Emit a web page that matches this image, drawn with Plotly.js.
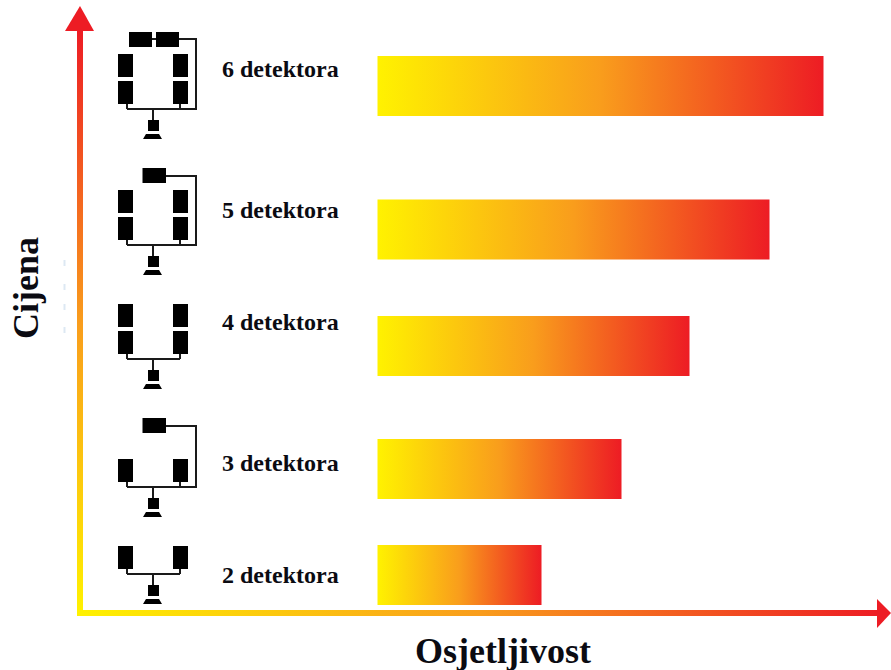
<!DOCTYPE html>
<html><head><meta charset="utf-8">
<script src="https://cdn.plot.ly/plotly-3.0.1.min.js"></script>
<style>html,body{margin:0;padding:0;background:#fff;overflow:hidden}#c{width:891px;height:670px}</style>
</head><body><div id="c"></div>
<script>
// Data (axes have no scale: units are arbitrary)
const categories = ['2 detektora','3 detektora','4 detektora','5 detektora','6 detektora'];
const osjetljivost = [164, 244, 312, 392, 446];
const cijena = [95, 201, 324, 440.5, 584];
const xTitle = 'Osjetljivost';
const yTitle = 'Cijena';

const W = 891, H = 670, BAR_LEFT = 377.5;
const X = p => p - BAR_LEFT, Y = p => H - p;
const INK = '#0b0b12', FONT = '"Liberation Serif","Times New Roman",serif';

const shapes = [];
const rect = (x0,y0,x1,y1,color) => shapes.push({type:'rect',xref:'x',yref:'y',x0:X(x0),x1:X(x1),y0:Y(y0),y1:Y(y1),fillcolor:color||'#000',line:{width:0}});
const poly = (pts,color) => shapes.push({type:'path',xref:'x',yref:'y',path:'M'+pts.map(p=>X(p[0])+','+Y(p[1])).join('L')+'Z',fillcolor:color||'#000',line:{width:0}});
const wire = (x0,y0,x1,y1) => shapes.push({type:'line',xref:'x',yref:'y',x0:X(x0),x1:X(x1),y0:Y(y0),y1:Y(y1),line:{color:'#1a1a1a',width:2}});

// axis shafts (gradient fills applied after drawing, indices 0 and 1)
rect(77,30,83,616,'#F7941D');
rect(77,610,880,616,'#F7941D');
poly([[80,6],[94,31],[65,31]],'#ED1C24');
poly([[877,599],[891,613],[877,628]],'#ED1C24');

// faint scan marks beside the vertical axis
[263,287,307,330].forEach(y => rect(63.5,y-3,65.5,y+3,'#dde8f3'));

// detector array icons: wire y, rows per side, detectors on top, y of top wire
function icon(wy, rows, top, topY) {
  wire(127,wy,180,wy); wire(153,wy,153,wy+12);
  wire(127,wy-5,127,wy); wire(180,wy-5,180,wy);
  if (top===2) {
    wire(179,topY,196,topY); wire(196,topY-1,196,wy+1); wire(180,wy,196,wy); wire(152,topY,156,topY);
    rect(129,topY-7,152,topY+8); rect(156,topY-7,179,topY+8);
  } else if (top===1) {
    wire(165,topY,196,topY); wire(196,topY-1,196,wy+1); wire(180,wy,196,wy);
    rect(142.5,topY-8,166,topY+7);
  }
  [[118,133],[173,188]].forEach(c => {
    rect(c[0],wy-28,c[1],wy-5);
    if (rows===2) rect(c[0],wy-55,c[1],wy-32);
  });
  rect(148,wy+11,159,wy+22);
  poly([[146,wy+25],[159,wy+25],[162,wy+30],[143,wy+30]]);
}
icon(109,2,2,39);   // 6 detectors
icon(245,2,1,176);  // 5 detectors
icon(359,2,0);      // 4 detectors
icon(487,1,1,426);  // 3 detectors
icon(574,1,0);      // 2 detectors

const labelY = [575,463,322,210,69];
const annotations = categories.map((c,i)=>({xref:'x',yref:'y',x:X(220),y:Y(labelY[i]),text:'<b>'+c+'</b>',showarrow:false,xanchor:'left',yanchor:'middle',font:{family:FONT,size:24,color:INK}}));
annotations.push({xref:'x',yref:'y',x:X(503),y:Y(651),text:'<b>'+xTitle+'</b>',showarrow:false,font:{family:FONT,size:36,color:INK}});
annotations.push({xref:'x',yref:'y',x:X(26),y:Y(288),text:'<b>'+yTitle+'</b>',textangle:-90,showarrow:false,font:{family:FONT,size:36,color:INK}});

const trace = {type:'bar',orientation:'h',x:osjetljivost,y:cijena,width:60,text:categories,textposition:'none',hoverinfo:'x+text',marker:{color:'#F7941D',line:{width:0}}};
const layout = {width:W,height:H,margin:{l:0,r:0,t:0,b:0},paper_bgcolor:'#fff',plot_bgcolor:'#fff',showlegend:false,
  xaxis:{range:[-BAR_LEFT,W-BAR_LEFT],visible:false,fixedrange:true},
  yaxis:{range:[0,H],visible:false,fixedrange:true},shapes,annotations};

Plotly.newPlot('c',[trace],layout,{displayModeBar:false}).then(gd=>{
  const NS='http://www.w3.org/2000/svg', svg=gd.querySelector('svg.main-svg'), defs=svg.querySelector('defs')||svg.insertBefore(document.createElementNS(NS,'defs'),svg.firstChild);
  const grad=(id,x2,y2,stops)=>{const g=document.createElementNS(NS,'linearGradient');g.id=id;g.setAttribute('x1','0');g.setAttribute('y1',y2?'1':'0');g.setAttribute('x2',x2);g.setAttribute('y2','0');
    stops.forEach(s=>{const e=document.createElementNS(NS,'stop');e.setAttribute('offset',s[0]);e.setAttribute('stop-color',s[1]);g.appendChild(e);});defs.appendChild(g);};
  const stops=[[0,'#FFF200'],[0.5,'#F99D1C'],[1,'#ED1C24']];
  grad('gH','1',0,stops); grad('gV','0',1,stops);
  gd.querySelectorAll('.barlayer .point path').forEach(p=>p.style.fill='url(#gH)');
  const sh=gd.querySelectorAll('.shapelayer path');
  sh[0].style.fill='url(#gV)'; sh[1].style.fill='url(#gH)';
});
</script></body></html>
